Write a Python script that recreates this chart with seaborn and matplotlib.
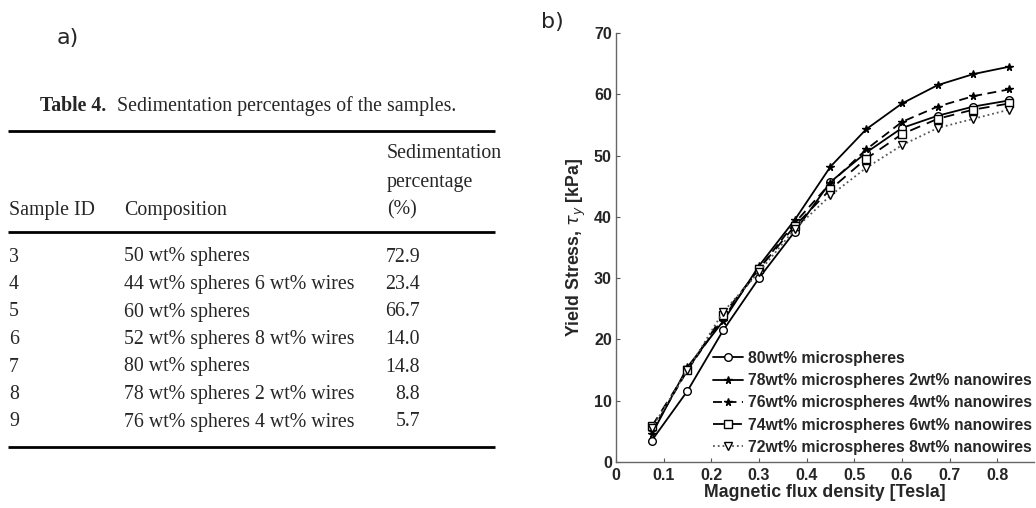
import numpy as np
import pandas as pd
import matplotlib
matplotlib.use("Agg")
import matplotlib.pyplot as plt
import seaborn as sns

# ---------------- data ----------------
sample_ids = ["3", "4", "5", "6", "7", "8", "9"]
compositions = ["50 wt% spheres", "44 wt% spheres 6 wt% wires", "60 wt% spheres",
                "52 wt% spheres 8 wt% wires", "80 wt% spheres",
                "78 wt% spheres 2 wt% wires", "76 wt% spheres 4 wt% wires"]
sed_pct = ["72.9", "23.4", "66.7", "14.0", "14.8", "8.8", "5.7"]

flux = [0.075, 0.15, 0.225, 0.3, 0.375, 0.45, 0.525, 0.6, 0.675, 0.75, 0.825]
s80 = [3.5, 11.6, 21.5, 30.0, 37.6, 45.7, 50.5, 54.5, 56.5, 58.0, 59.0]
s78_2 = [4.5, 15.5, 23.0, 32.0, 39.5, 48.2, 54.3, 58.5, 61.5, 63.3, 64.5]
s76_4 = [5.0, 15.0, 23.5, 31.5, 39.0, 45.5, 51.0, 55.5, 58.0, 59.7, 60.8]
s74_6 = [5.8, 15.0, 24.0, 31.5, 38.5, 44.5, 49.5, 53.5, 56.0, 57.5, 58.5]
s72_8 = [5.5, 15.0, 24.5, 31.0, 38.0, 43.5, 48.0, 51.7, 54.5, 56.0, 57.5]
series_labels = ["80wt% microspheres",
                 "78wt% microspheres 2wt% nanowires",
                 "76wt% microspheres 4wt% nanowires",
                 "74wt% microspheres 6wt% nanowires",
                 "72wt% microspheres 8wt% nanowires"]
x_ticks = [0, 0.1, 0.2, 0.3, 0.4, 0.5, 0.6, 0.7, 0.8]
x_ticklabels = ["0", "0.1", "0.2", "0.3", "0.4", "0.5", "0.6", "0.7", "0.8"]
y_ticks = [0, 10, 20, 30, 40, 50, 60, 70]

sns.set_theme(style="white")
plt.rcParams["font.family"] = ["Liberation Sans", "DejaVu Sans"]

W, H = 1036, 508
fig = plt.figure(figsize=(W / 100, H / 100), dpi=100)

# --------------- panel a: table ---------------
tax = fig.add_axes([0, 0, 1, 1])
tax.set_xlim(0, W)
tax.set_ylim(H, 0)
tax.axis("off")
serif = ["Liberation Serif", "DejaVu Serif"]
fs = 14.3
tax.text(68, 38, "a)", fontsize=16, ha="center", va="center", family=["DejaVu Sans"])
tax.text(40, 106, "Table 4.", fontsize=fs, fontweight="bold", family=serif, va="center", ha="left")
tax.text(117, 106, "Sedimentation percentages of the samples.", fontsize=fs, family=serif,
         va="center", ha="left")
for yy in (131, 232, 447):
    tax.plot([8, 495], [yy, yy], color="black", lw=2.0, solid_capstyle="butt")
tax.text(387, 154, "Sedimentation", fontsize=fs, family=serif, va="center", ha="left")
tax.text(387, 182, "percentage", fontsize=fs, family=serif, va="center", ha="left")
tax.text(387, 210, "(%)", fontsize=fs, family=serif, va="center", ha="left")
tax.text(9, 210, "Sample ID", fontsize=fs, family=serif, va="center", ha="left")
tax.text(124, 210, "Composition", fontsize=fs, family=serif, va="center", ha="left")
row_y0, row_dy = 257, 27.5
for i, (sid, comp, pct) in enumerate(zip(sample_ids, compositions, sed_pct)):
    yy = row_y0 + i * row_dy
    tax.text(9, yy, sid, fontsize=fs, family=serif, va="center", ha="left")
    tax.text(124, yy, comp, fontsize=fs, family=serif, va="center", ha="left")
    tax.text(420, yy, pct, fontsize=fs, family=serif, va="center", ha="right")
tax.text(552, 22, "b)", fontsize=16, ha="center", va="center", family=["DejaVu Sans"])

# --------------- panel b: chart ---------------
ax = fig.add_axes([616 / W, 1 - 462 / H, (1034 - 616) / W, (462 - 33) / H])
styles = [
    dict(marker="o", ls="-", mfc="white", color="black"),
    dict(marker="*", ls="-", mfc="black", color="black"),
    dict(marker="*", ls=(0, (5, 3)), mfc="black", color="black"),
    dict(marker="s", ls=(0, (6, 4)), mfc="white", color="black"),
    dict(marker="v", ls=":", mfc="white", color="#555555"),
]
for ys, lab, st in zip([s80, s78_2, s76_4, s74_6, s72_8], series_labels, styles):
    sns.lineplot(x=flux, y=ys, ax=ax, label=lab, color=st["color"], linestyle=st["ls"],
                 marker=st["marker"], markerfacecolor=st["mfc"], markeredgecolor="black",
                 markersize=5.5, markeredgewidth=1.0, linewidth=1.3)

ax.set_xlim(0, 0.877)
ax.set_ylim(0, 70)
ax.set_xticks(x_ticks)
ax.set_xticklabels(x_ticklabels)
ax.set_yticks(y_ticks)
for lab in ax.get_xticklabels() + ax.get_yticklabels():
    lab.set_fontweight("bold")
    lab.set_fontsize(11.5)
ax.tick_params(direction="in", length=3, width=0.8, color="#555555", pad=3, left=True, bottom=True)
ax.tick_params(axis="x", pad=4)
for side in ("top", "right"):
    ax.spines[side].set_visible(False)
for side in ("left", "bottom"):
    ax.spines[side].set_color("#666666")
    ax.spines[side].set_linewidth(1.0)
ax.set_xlabel("Magnetic flux density [Tesla]", fontsize=12.8, fontweight="bold", labelpad=1)
ax.set_ylabel(r"Yield Stress, $\tau_y$ [kPa]", fontsize=12.8, fontweight="bold", labelpad=4)
leg = ax.legend(loc="upper left", bbox_to_anchor=(0.232, 0.259), frameon=False,
                fontsize=11.3, handlelength=1.9, handletextpad=0.3, labelspacing=0.46,
                borderaxespad=0, borderpad=0)
for t in leg.get_texts():
    t.set_fontweight("bold")

fig.savefig("out.png", dpi=100)
